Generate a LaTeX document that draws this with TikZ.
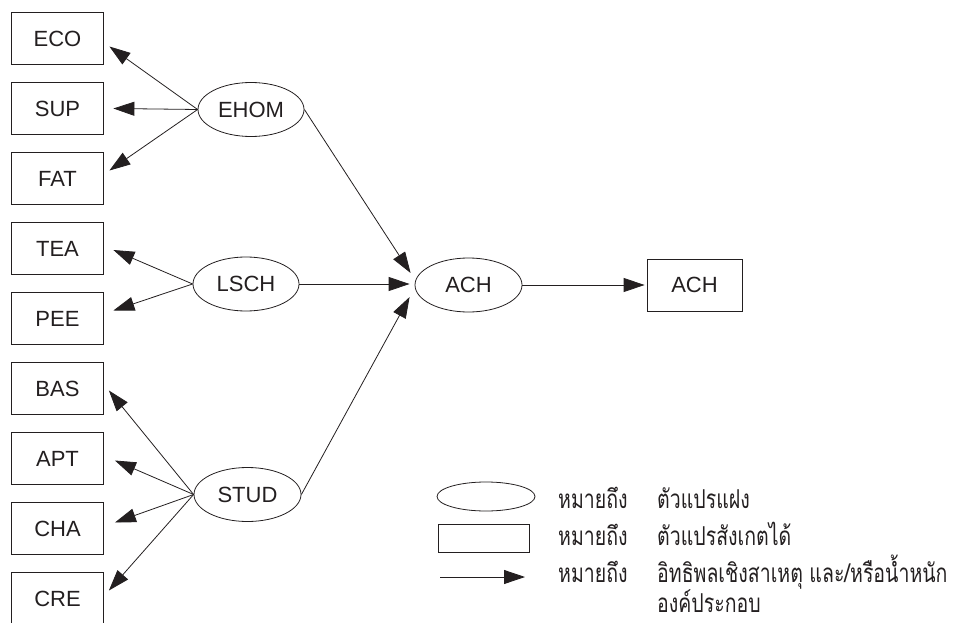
\documentclass[tikz,border=0pt]{standalone}
\usepackage{fontspec}
\setmainfont{Liberation Sans}
\newfontfamily\thaifont[Script=Thai,FakeStretch=0.75]{Loma}
\usetikzlibrary{shapes.geometric,arrows.meta,calc}
\definecolor{ink}{RGB}{35,31,32}
\tikzset{
  obsbox/.style={draw=ink, line width=0.8pt, minimum width=92pt, minimum height=52pt, inner sep=0pt, text=ink, font=\fontsize{22}{26}\selectfont},
  latent/.style={draw=ink, ellipse, line width=0.8pt, minimum width=106pt, minimum height=54pt, inner sep=0pt, text=ink, font=\fontsize{22}{26}\selectfont},
  arr/.style={draw=ink, line width=0.8pt, -{Triangle[length=21pt,width=14pt]}},
  legtext/.style={anchor=base west, inner sep=0pt, text=ink, font=\thaifont\fontsize{26}{30}\selectfont}
}
\begin{document}
\begin{tikzpicture}[x=1pt,y=-1pt]
\useasboundingbox (0,0) rectangle (958,623);
% observed boxes
\node[obsbox] (ECO) at (57.5,38.5) {ECO};
\node[obsbox] (SUP) at (57.5,108.5) {SUP};
\node[obsbox] (FAT) at (57.5,178.5) {FAT};
\node[obsbox] (TEA) at (57.5,248.5) {TEA};
\node[obsbox] (PEE) at (57.5,318.5) {PEE};
\node[obsbox] (BAS) at (57.5,388.5) {BAS};
\node[obsbox] (APT) at (57.5,458.5) {APT};
\node[obsbox] (CHA) at (57.5,528.5) {CHA};
\node[obsbox] (CRE) at (57.5,598.5) {CRE};
% latent
\node[latent] (EHOM) at (251,109.5) {EHOM};
\node[latent] (LSCH) at (246,284) {LSCH};
\node[latent, minimum width=107pt] (STUD) at (247.5,494.5) {STUD};
\node[latent, minimum width=107pt] (ACH) at (468.5,285) {ACH};
\node[obsbox, minimum width=95pt] (ACHo) at (694.5,285) {ACH};
% loadings
\draw[arr] (EHOM.west) -- ($(ECO.east)+(5.5,8)$);
\draw[arr] (EHOM.west) -- ($(SUP.east)+(9.5,0)$);
\draw[arr] (EHOM.west) -- ($(FAT.east)+(5.5,-8)$);
\draw[arr] (LSCH.west) -- ($(TEA.east)+(9.5,1.5)$);
\draw[arr] (LSCH.west) -- ($(PEE.east)+(9.5,-8)$);
\draw[arr] (STUD.west) -- ($(BAS.east)+(5,2)$);
\draw[arr] (STUD.west) -- ($(APT.east)+(11,2)$);
\draw[arr] (STUD.west) -- ($(CHA.east)+(11,-6)$);
\draw[arr] (STUD.west) -- ($(CRE.east)+(5,-8)$);
% structural
\draw[arr] (EHOM.east) -- ($(ACH.west)+(-4,-12)$);
\draw[arr] (LSCH.east) -- ($(ACH.west)+(-5,-1)$);
\draw[arr] (STUD.east) -- ($(ACH.west)+(-5,12)$);
\draw[arr] (ACH.east) -- ($(ACHo.west)+(-2,0)$);
% legend
\node[draw=ink, ellipse, line width=0.8pt, minimum width=98pt, minimum height=29pt, inner sep=0pt] (lgell) at (486,496.5) {};
\node[draw=ink, line width=0.8pt, minimum width=91pt, minimum height=28pt, inner sep=0pt] (lgrect) at (483.5,538) {};
\coordinate (lga) at (440,577);
\coordinate (lgb) at (525,577);
\draw[arr] (lga) -- (lgb);
\node[legtext] (m1) at (558,508) {หมายถึง};
\node[legtext] (d1) at (657,508) {ตัวแปรแฝง};
\node[legtext] (m2) at (558,545) {หมายถึง};
\node[legtext] (d2) at (657,545) {ตัวแปรสังเกตได้};
\node[legtext] (m3) at (558,582) {หมายถึง};
\node[legtext] (d3) at (657,582) {อิทธิพลเชิงสาเหตุ และ/หรือน้ำหนัก};
\node[legtext] (d4) at (657,612) {องค์ประกอบ};
\end{tikzpicture}
\end{document}
